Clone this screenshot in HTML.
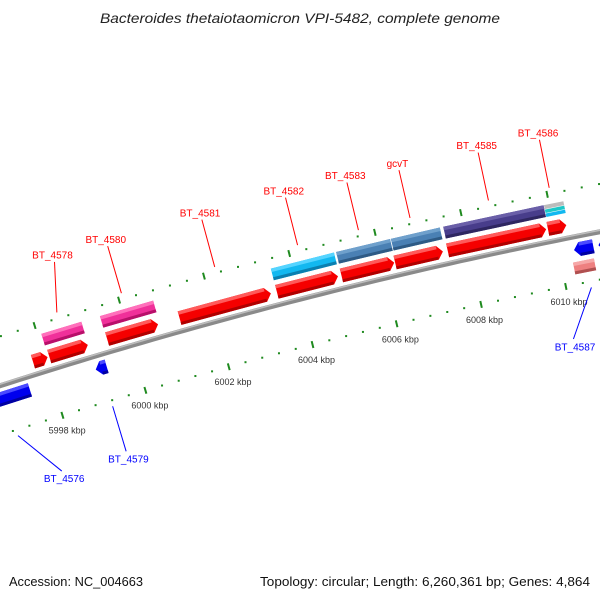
<!DOCTYPE html>
<html><head><meta charset="utf-8"><style>
html,body{margin:0;padding:0;background:#fff;}
svg{display:block;font-family:"Liberation Sans","DejaVu Sans",sans-serif;}
</style></head><body>
<svg id="map" width="600" height="600" viewBox="0 0 600 600" xmlns="http://www.w3.org/2000/svg">
<rect x="0" y="0" width="600" height="600" fill="#fff"/>
<text x="300" y="23" text-anchor="middle" font-style="italic" font-size="14" fill="#222" textLength="400" lengthAdjust="spacingAndGlyphs">Bacteroides thetaiotaomicron VPI-5482, complete genome</text>
<g id="ticks"></g>
<g id="backbone"></g>
<g id="feats"></g>
<g id="labels"></g>
<text x="9" y="586" font-size="13" fill="#111" textLength="134" lengthAdjust="spacingAndGlyphs">Accession: NC_004663</text>
<text x="590" y="586" text-anchor="end" font-size="13" fill="#111" textLength="330" lengthAdjust="spacingAndGlyphs">Topology: circular; Length: 6,260,361 bp; Genes: 4,864</text>
</svg>
<script>
// ---- data ----
const fwdName  = ['', 'BT_4578', 'BT_4580', 'BT_4581', 'BT_4582', 'BT_4583', 'gcvT', 'BT_4585', 'BT_4586'];
const fwdStart = [5997.72, 5998.11, 5999.49, 6001.21, 6003.51, 6005.03, 6006.29, 6007.52, 6009.86];
const fwdEnd   = [5998.07, 5999.03, 6000.70, 6003.37, 6004.95, 6006.27, 6007.41, 6009.82, 6010.29];
const fwdLabelShift = [0, 0.28, 0, 0, 0, 0, 0, 0, 0];
const revName  = ['BT_4576', 'BT_4579', 'BT_4587', ''];
const revStart = [5996.3, 5999.04, 6010.35, 6010.92];
const revEnd   = [5997.46, 5999.30, 6010.80, 6011.6];
const revLabelKbp = [5997.6, 5999.17, 6009.93, null];
const geneStart = [5998.09, 5999.48, 6003.51, 6005.04, 6006.32, 6007.54, 6009.88];
const geneEnd   = [5999.04, 6000.74, 6004.99, 6006.30, 6007.46, 6009.87, 6010.33];
const geneKind  = ['pink', 'pink', 'cyan', 'steel', 'steel', 'purple', 'stripes'];
const innerStart = [6010.27, 6010.95];
const innerEnd   = [6010.76, 6011.6];
const tickLabelKbp = [5998, 6000, 6002, 6004, 6006, 6008, 6010];

// ---- geometry ----
const CX = 1595, CY = 5354, R = 5218;
function P(kbp, d) {
  const phi = (-16.28 + 0.48 * (kbp - 6000)) * Math.PI / 180;
  const r = R + d;
  return [CX + r * Math.sin(phi), CY - r * Math.cos(phi)];
}
const NS = 'http://www.w3.org/2000/svg';
function mk(tag, attrs, parent) {
  const e = document.createElementNS(NS, tag);
  for (const k in attrs) e.setAttribute(k, attrs[k]);
  parent.appendChild(e);
  return e;
}
function pts(list) { return list.map(p => p[0].toFixed(2) + ',' + p[1].toFixed(2)).join(' '); }

const PAL = {
  red:    ['#f50000', '#ff5a5a', '#b00000'],
  blue:   ['#0000ee', '#4a4aff', '#0000a0'],
  pink:   ['#f0309a', '#ff70bb', '#b8106a'],
  cyan:   ['#12b8f0', '#55d4ff', '#0a7fb0'],
  steel:  ['#4a80b4', '#6fa0cc', '#2e5a85'],
  purple: ['#483d8b', '#6a5fa8', '#2e2660'],
  salmon: ['#ee8080', '#f6a8a8', '#b05050']
};

// ---- tick rings ----
const tg = document.getElementById('ticks');
for (let i = 0; i <= 45; i++) {
  const k = 5994 + i * 0.4;
  const major = i % 5 === 0;
  [47, -47].forEach(dc => {
    if (major) {
      const a = P(k, dc - 3.5), b = P(k, dc + 3.5);
      const l = mk('line', {x1: a[0], y1: a[1], x2: b[0], y2: b[1], stroke: '#1f8a1f', 'stroke-width': 2}, tg);
      
      
    } else {
      const c = P(k, dc);
      const r = mk('rect', {x: c[0] - 1, y: c[1] - 1, width: 2, height: 2, fill: '#1f8a1f'}, tg);
      
      
    }
  });
}
tickLabelKbp.forEach(k => {
  const c = P(k, -63);
  const t = mk('text', {x: c[0], y: c[1] + 3, 'text-anchor': 'middle', 'font-size': 9, fill: '#333'}, tg);
  t.textContent = k + ' kbp';
  
  
});

// ---- backbone ----
const bg = document.getElementById('backbone');
let bpts = [];
for (let k = 5994; k <= 6014; k += 0.25) bpts.push(P(k, 0));
const bb1 = mk('polyline', {points: pts(bpts), fill: 'none', stroke: '#8a8a8a', 'stroke-width': 5}, bg);


let bpts2 = bpts.map((p, i) => P(5994 + i * 0.25, 1.5));
const bb2 = mk('polyline', {points: pts(bpts2), fill: 'none', stroke: '#bdbdbd', 'stroke-width': 1.5}, bg);



// ---- features ----
const fg = document.getElementById('feats');
function arrow(s, e, d0, d1, dir, pal, name) {
  const h = Math.min(0.13, (e - s) * 0.5);
  const dm = (d0 + d1) / 2;
  let poly, light, dark;
  if (dir > 0) {
    poly = [P(s, d0), P(e - h, d0), P(e, dm), P(e - h, d1), P(s, d1)];
    light = [P(s, d1 - 3.5), P(e - h, d1 - 3.5), P(e - h, d1), P(s, d1)];
    dark = [P(s, d0), P(e - h, d0), P(e - h, d0 + 3), P(s, d0 + 3)];
  } else {
    poly = [P(s, dm), P(s + h, d0), P(e, d0), P(e, d1), P(s + h, d1)];
    light = [P(s + h, d1 - 3.5), P(e, d1 - 3.5), P(e, d1), P(s + h, d1)];
    dark = [P(s + h, d0), P(e, d0), P(e, d0 + 3), P(s + h, d0 + 3)];
  }
  const g = mk('g', {}, fg);
  
  
  mk('polygon', {points: pts(poly), fill: pal[0]}, g);
  mk('polygon', {points: pts(light), fill: pal[1]}, g);
  mk('polygon', {points: pts(dark), fill: pal[2]}, g);
}
function box(s, e, d0, d1, pal, name) {
  const g = mk('g', {}, fg);
  
  
  mk('polygon', {points: pts([P(s, d0), P(e, d0), P(e, d1), P(s, d1)]), fill: pal[0]}, g);
  mk('polygon', {points: pts([P(s, d1 - 3.5), P(e, d1 - 3.5), P(e, d1), P(s, d1)]), fill: pal[1]}, g);
  mk('polygon', {points: pts([P(s, d0), P(e, d0), P(e, d0 + 3), P(s, d0 + 3)]), fill: pal[2]}, g);
  return g;
}
fwdStart.forEach((s, i) => arrow(s, fwdEnd[i], 6, 20, 1, PAL.red, 'cds-' + (fwdName[i] || 'unnamed-fwd')));
revStart.forEach((s, i) => arrow(s, revEnd[i], -20, -6, -1, PAL.blue, 'cds-' + (revName[i] || 'unnamed-rev')));
geneStart.forEach((s, i) => {
  const e = geneEnd[i];
  if (geneKind[i] === 'stripes') {
    const g = mk('g', {}, fg);
    
    
    [[33, 37, '#bcbcbc'], [29, 32.5, '#1cc8c8'], [25, 28.5, '#12b8f0']].forEach(b => {
      mk('polygon', {points: pts([P(s, b[0]), P(e, b[0]), P(e, b[1]), P(s, b[1])]), fill: b[2]}, g);
    });
  } else {
    box(s, e, 25, 37, PAL[geneKind[i]], 'gene-' + geneKind[i] + '-' + i);
  }
});
innerStart.forEach((s, i) => box(s, innerEnd[i], -37, -25, PAL.salmon, 'inner-feature-' + i));

// ---- labels ----
const lg = document.getElementById('labels');
fwdName.forEach((n, i) => {
  if (!n) return;
  const k = (fwdStart[i] + fwdEnd[i]) / 2;
  const lk = k + fwdLabelShift[i];
  const a = P(k, 53), b = P(lk, 102), c = P(lk, 109);
  const l = mk('line', {x1: a[0], y1: a[1], x2: b[0], y2: b[1], stroke: '#ff0000', 'stroke-width': 1}, lg);
  
  
  const t = mk('text', {x: c[0], y: c[1] + 3.5, 'text-anchor': 'middle', 'font-size': 10, fill: '#ff0000'}, lg);
  t.textContent = n;
  
  
});
revName.forEach((n, i) => {
  if (!n) return;
  const k = (revStart[i] + revEnd[i]) / 2;
  const lk = revLabelKbp[i];
  const a = P(k, -53), b = P(lk, -100), c = P(lk, -108);
  const l = mk('line', {x1: a[0], y1: a[1], x2: b[0], y2: b[1], stroke: '#0000ff', 'stroke-width': 1}, lg);
  
  
  const t = mk('text', {x: c[0], y: c[1] + 3.5, 'text-anchor': 'middle', 'font-size': 10, fill: '#0000ff'}, lg);
  t.textContent = n;
  
  
});
</script>
</body></html>
